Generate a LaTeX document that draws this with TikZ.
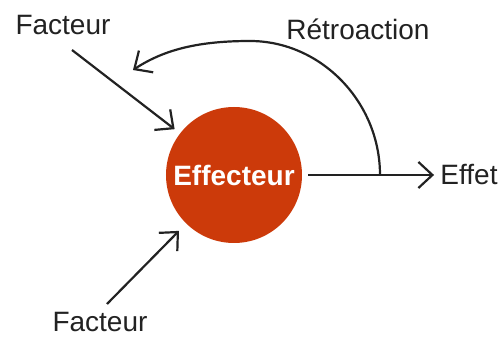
\documentclass[tikz,border=0pt]{standalone}
\usepackage{fontspec}
\setmainfont{Liberation Sans}
\usetikzlibrary{arrows.meta}
\definecolor{effred}{RGB}{204,58,10}
\definecolor{ink}{RGB}{34,34,34}

\begin{document}
\begin{tikzpicture}[x=0.5pt, y=0.5pt,
  lbl/.style={font=\fontsize{14}{16}\selectfont, text=ink, inner sep=0pt, anchor=base},
  arr/.style={draw=ink, line width=1.1pt, -{Straight Barb[length=7pt,width=13pt]}}]
\useasboundingbox (0,0) rectangle (500,338);
\node[circle, fill=effred, minimum size=68pt, inner sep=0pt, text=white,
  font=\fontsize{14}{16}\selectfont\bfseries](eff) at (234,163){Effecteur};
\node[lbl](f1) at (63,303){Facteur};
\node[lbl](f2) at (100,6){Facteur};
\node[lbl](res) at (469,153){Effet};
\node[lbl](retro) at (358,298){Rétroaction};
\coordinate (f1a) at (72,288);
\coordinate (f2a) at (107,34);
\coordinate (fb) at (380,163);
\coordinate (fbend) at (133,268);
% facteurs vers l'effecteur
\draw[arr, shorten >=3.3pt] (f1a) -- (eff);
\draw[arr, shorten >=5pt] (f2a) -- (eff);
% effet
\draw[arr, shorten <=3pt, shorten >=3pt] (eff.east) -- (eff.east -| res.west);
% retroaction
\draw[arr] (fb) .. controls (380,236) and (321,297) .. (250,297)
  .. controls (200,297) and (165,289) .. (fbend);
\end{tikzpicture}
\end{document}
